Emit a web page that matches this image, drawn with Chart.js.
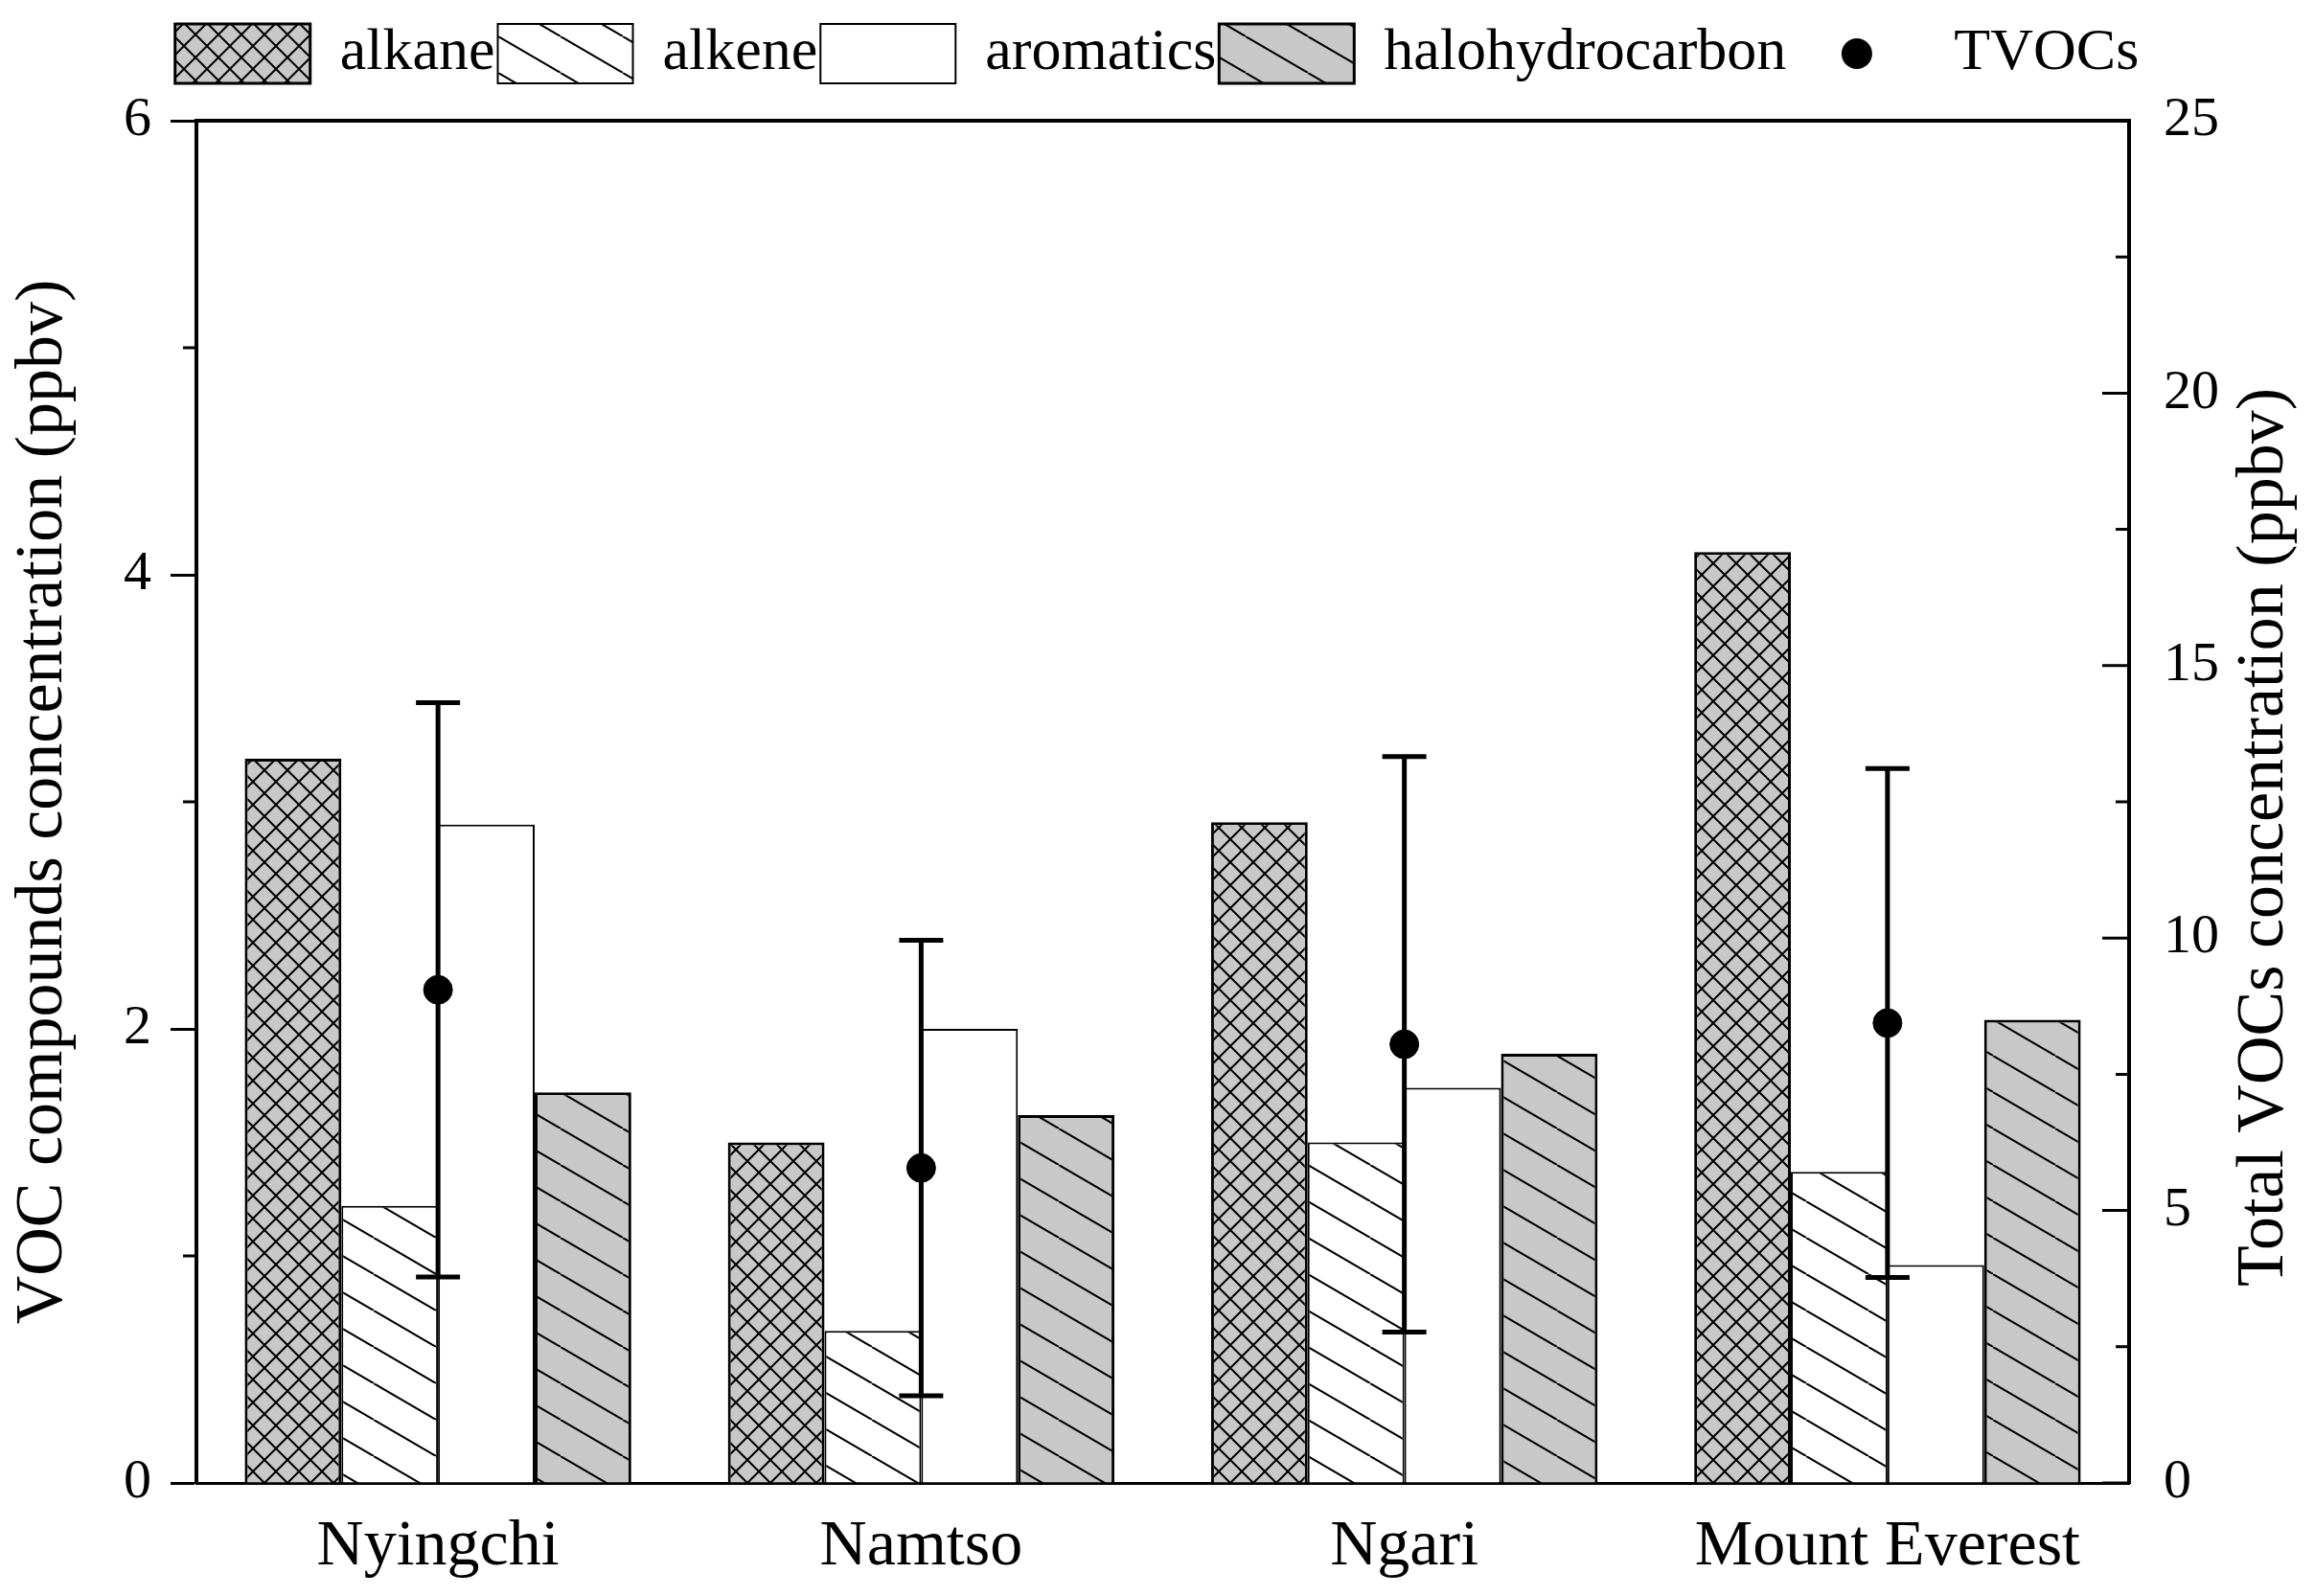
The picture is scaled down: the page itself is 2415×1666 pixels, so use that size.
<!DOCTYPE html>
<html>
<head>
<meta charset="utf-8">
<title>VOC compounds concentration</title>
<script src="https://cdn.jsdelivr.net/npm/chart.js@4.4.1/dist/chart.umd.min.js"></script>
<style>
  html, body { margin: 0; padding: 0; background: #fff; }
  canvas { display: block; }
</style>
</head>
<body>
<canvas id="chart" width="2415" height="1666"></canvas>
<script>
// Values (left axis ppbv for groups, right axis ppbv for TVOCs)
const categories = ['Nyingchi', 'Namtso', 'Ngari', 'Mount Everest'];
const alkane = [3.19, 1.50, 2.91, 4.10];
const alkene = [1.22, 0.67, 1.50, 1.37];
const aromatics = [2.90, 2.00, 1.74, 0.96];
const halohydrocarbon = [1.72, 1.62, 1.89, 2.04];
const tvocs = [9.05, 5.78, 8.05, 8.44];
const tvocErr = [5.27, 4.18, 5.28, 4.67];

const leftMinorTicks = [1, 3, 5];
const rightMajorTicks = [0, 5, 10, 15, 20, 25];
const rightMinorTicks = [2.5, 7.5, 12.5, 17.5, 22.5];

const leftTitle = 'VOC compounds concentration (ppbv)';
const rightTitle = 'Total VOCs concentration (ppbv)';
const serif = "'Liberation Serif', 'Times New Roman', serif";

// hatch fill: '\' lines over a w x h tile, optionally crossed
function hatch(bg, w, h, lw, cross) {
    const c = document.createElement('canvas');
    c.width = w; c.height = h;
    const g = c.getContext('2d');
    g.fillStyle = bg;
    g.fillRect(0, 0, w, h);
    g.strokeStyle = '#000';
    g.lineWidth = lw;
    g.beginPath();
    for (const o of [-w, 0, w]) {
        g.moveTo(o, 0); g.lineTo(o + w, h);
        if (cross) { g.moveTo(o + w, 0); g.lineTo(o, h); }
    }
    g.stroke();
    return g.createPattern(c, 'repeat');
}

// dot used in the legend for TVOCs
const dot = document.createElement('canvas');
dot.width = 34; dot.height = 34;
(function () {
    const g = dot.getContext('2d');
    g.fillStyle = '#000';
    g.beginPath(); g.arc(17, 17, 16, 0, Math.PI * 2); g.fill();
})();

const errorBars = {
    id: 'errorBars',
    beforeDatasetDraw(chart, args) {
        if (args.index !== 4) return;
        const y2 = chart.scales.y2;
        const ctx = chart.ctx;
        ctx.save();
        ctx.strokeStyle = '#000';
        ctx.lineWidth = 5;
        args.meta.data.forEach((pt, i) => {
            const x = pt.x;
            const t = y2.getPixelForValue(tvocs[i] + tvocErr[i]);
            const b = y2.getPixelForValue(tvocs[i] - tvocErr[i]);
            ctx.beginPath();
            ctx.moveTo(x, t); ctx.lineTo(x, b);
            ctx.moveTo(x - 23, t); ctx.lineTo(x + 23, t);
            ctx.moveTo(x - 23, b); ctx.lineTo(x + 23, b);
            ctx.stroke();
        });
        ctx.restore();
    }
};

const frame = {
    id: 'frame',
    beforeLayout(chart) {
        const lg = chart.legend;
        if (lg && !lg._fixed) {
            const fit = lg.fit;
            lg.fit = function () { fit.call(this); this.height = 104; };
            lg._fixed = true;
        }
    },
    afterDraw(chart) {
        const ctx = chart.ctx;
        const a = chart.chartArea;
        const y = chart.scales.y, y2 = chart.scales.y2;
        ctx.save();
        ctx.strokeStyle = '#000';
        // top border
        ctx.lineWidth = 4;
        ctx.beginPath();
        ctx.moveTo(a.left - 2, a.top); ctx.lineTo(a.right + 2, a.top);
        ctx.stroke();
        ctx.lineWidth = 3;
        ctx.beginPath();
        leftMinorTicks.forEach(v => {
            const p = y.getPixelForValue(v);
            ctx.moveTo(a.left - 14, p); ctx.lineTo(a.left, p);
        });
        // right axis ticks point inward
        rightMajorTicks.forEach(v => {
            const p = y2.getPixelForValue(v);
            ctx.moveTo(a.right - 28, p); ctx.lineTo(a.right, p);
        });
        rightMinorTicks.forEach(v => {
            const p = y2.getPixelForValue(v);
            ctx.moveTo(a.right - 14, p); ctx.lineTo(a.right, p);
        });
        ctx.stroke();
        // right title reads bottom to top
        ctx.fillStyle = '#000';
        ctx.font = '70px ' + serif;
        ctx.textAlign = 'center';
        ctx.textBaseline = 'middle';
        ctx.translate(chart.width - 51, (a.top + a.bottom) / 2 + 37);
        ctx.rotate(-Math.PI / 2);
        ctx.fillText(rightTitle, 0, 0);
        ctx.restore();
    }
};

const ctx = document.getElementById('chart').getContext('2d');
new Chart(ctx, {
    type: 'bar',
    data: {
        labels: categories,
        datasets: [
            { label: 'alkane', data: alkane, backgroundColor: hatch('#c8c8c8', 24, 24, 2, true),
              borderColor: '#000', borderWidth: 3, categoryPercentage: 0.8, barPercentage: 1.0, order: 1 },
            { label: 'alkene', data: alkene, backgroundColor: hatch('#ffffff', 65, 38, 2, false),
              borderColor: '#000', borderWidth: 2, categoryPercentage: 0.8, barPercentage: 1.0, order: 1 },
            { label: 'aromatics', data: aromatics, backgroundColor: '#ffffff',
              borderColor: '#000', borderWidth: 2, categoryPercentage: 0.8, barPercentage: 1.0, order: 1 },
            { label: 'halohydrocarbon', data: halohydrocarbon, backgroundColor: hatch('#c8c8c8', 65, 38, 2, false),
              borderColor: '#000', borderWidth: 3, categoryPercentage: 0.8, barPercentage: 1.0, order: 1 },
            { type: 'line', label: 'TVOCs', data: tvocs, yAxisID: 'y2', showLine: false,
              pointRadius: 15, pointHoverRadius: 15, pointBackgroundColor: '#000', pointBorderColor: '#000',
              backgroundColor: '#000', borderColor: '#000', order: 0 }
        ]
    },
    options: {
        responsive: false,
        animation: false,
        devicePixelRatio: 1,
        layout: { padding: { top: 22, left: 0, right: 0, bottom: 0 } },
        plugins: {
            tooltip: { enabled: false },
            legend: {
                position: 'top',
                labels: {
                    color: '#000',
                    font: { family: serif, size: 62 },
                    usePointStyle: true,
                    pointStyleWidth: 141,
                    boxHeight: 66,
                    padding: 3,
                    generateLabels(chart) {
                        const items = Chart.defaults.plugins.legend.labels.generateLabels(chart);
                        items.sort((a, b) => a.datasetIndex - b.datasetIndex);
                        items.forEach(it => {
                            it.pointStyle = it.datasetIndex === 4 ? dot : 'rect';
                        });
                        return items;
                    }
                }
            }
        },
        scales: {
            x: {
                grid: { display: false },
                border: { display: true, color: '#000', width: 3 },
                ticks: { color: '#000', font: { family: serif, size: 68 }, padding: 18 },
                afterFit(s) { s.height = 118; }
            },
            y: {
                position: 'left',
                min: 0, max: 6,
                ticks: { stepSize: 2, color: '#000', font: { family: serif, size: 58 }, padding: 20 },
                grid: { drawOnChartArea: false, drawTicks: true, tickLength: 27, tickWidth: 3, tickColor: '#000', color: '#000' },
                border: { color: '#000', width: 4 },
                title: { display: true, text: leftTitle, color: '#000', font: { family: serif, size: 70 }, padding: { top: 4, bottom: 0 } },
                afterFit(s) { s.width = 205; }
            },
            y2: {
                position: 'right',
                min: 0, max: 25,
                ticks: { stepSize: 5, color: '#000', font: { family: serif, size: 58 }, padding: 28 },
                grid: { display: false },
                border: { color: '#000', width: 4 },
                afterFit(s) { s.width = 193; }
            }
        }
    },
    plugins: [errorBars, frame]
});
</script>
</body>
</html>
